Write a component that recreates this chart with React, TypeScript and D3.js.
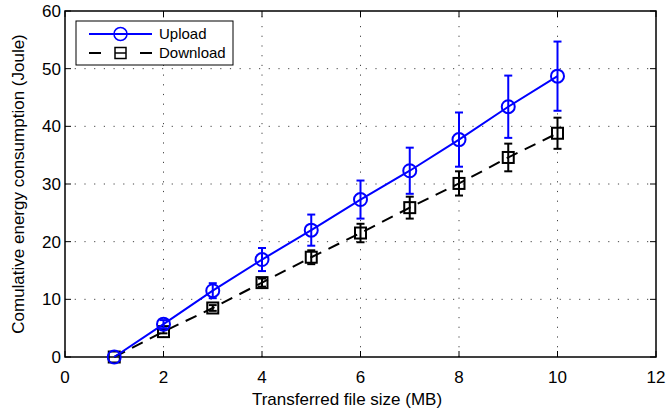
import React, { useEffect, useRef } from 'react';
import * as d3 from 'd3';

const fileSizes = [1, 2, 3, 4, 5, 6, 7, 8, 9, 10];
const uploadMean = [0, 5.7, 11.5, 16.9, 22.0, 27.3, 32.3, 37.7, 43.4, 48.7];
const uploadErr = [0, 0.7, 1.3, 2.0, 2.7, 3.3, 4.0, 4.7, 5.4, 6.0];
const downloadMean = [0, 4.4, 8.5, 12.9, 17.3, 21.5, 25.9, 30.1, 34.6, 38.8];
const downloadErr = [0, 0.3, 0.5, 0.7, 1.2, 1.6, 1.9, 2.1, 2.4, 2.7];
const xTicks = [0, 2, 4, 6, 8, 10, 12];
const yTicks = [0, 10, 20, 30, 40, 50, 60];

const W = 667;
const H = 415;
const FONT = '"Liberation Sans", Arial, sans-serif';

function Chart() {
  const ref = useRef<SVGSVGElement>(null);

  useEffect(() => {
    const svg = d3.select(ref.current);
    svg.selectAll('*').remove();

    const left = 65, right = 656, top = 11, bottom = 357;
    const x = d3.scaleLinear().domain([0, 12]).range([left, right]);
    const y = d3.scaleLinear().domain([0, 60]).range([bottom, top]);

    const g = svg.append('g');

    // dotted grid
    xTicks.slice(1, -1).forEach(t => {
      g.append('line')
        .attr('x1', x(t)).attr('x2', x(t)).attr('y1', bottom).attr('y2', top)
        .attr('stroke', '#444').attr('stroke-width', 1)
        .attr('stroke-dasharray', '1.2,8.5');
    });
    yTicks.slice(1, -1).forEach(t => {
      g.append('line')
        .attr('x1', left).attr('x2', right).attr('y1', y(t)).attr('y2', y(t))
        .attr('stroke', '#444').attr('stroke-width', 1)
        .attr('stroke-dasharray', '1.2,8.5');
    });

    // inward ticks, both sides
    xTicks.forEach(t => {
      g.append('line').attr('x1', x(t)).attr('x2', x(t)).attr('y1', bottom).attr('y2', bottom - 6).attr('stroke', '#000');
      g.append('line').attr('x1', x(t)).attr('x2', x(t)).attr('y1', top).attr('y2', top + 6).attr('stroke', '#000');
      g.append('text')
        .attr('x', x(t)).attr('y', bottom + 26)
        .attr('text-anchor', 'middle')
        .attr('font-family', FONT).attr('font-size', 17)
        .text(t);
    });
    yTicks.forEach(t => {
      g.append('line').attr('x1', left).attr('x2', left + 6).attr('y1', y(t)).attr('y2', y(t)).attr('stroke', '#000');
      g.append('line').attr('x1', right).attr('x2', right - 6).attr('y1', y(t)).attr('y2', y(t)).attr('stroke', '#000');
      g.append('text')
        .attr('x', left - 4).attr('y', y(t) + 6)
        .attr('text-anchor', 'end')
        .attr('font-family', FONT).attr('font-size', 17)
        .text(t);
    });

    g.append('rect')
      .attr('x', left).attr('y', top).attr('width', right - left).attr('height', bottom - top)
      .attr('fill', 'none').attr('stroke', '#000').attr('stroke-width', 1.5);

    // axis labels
    g.append('text')
      .attr('x', 347).attr('y', 405)
      .attr('text-anchor', 'middle')
      .attr('font-family', FONT).attr('font-size', 17)
      .text('Transferred file size (MB)');
    g.append('text')
      .attr('transform', `translate(24,${(top + bottom) / 2}) rotate(-90)`)
      .attr('text-anchor', 'middle')
      .attr('font-family', FONT).attr('font-size', 17)
      .text('Comulative energy consumption (Joule)');

    const line = d3.line<number>().x((d, i) => x(fileSizes[i])).y(d => y(d));

    const drawErr = (mean: number[], err: number[], color: string) => {
      mean.forEach((m, i) => {
        if (err[i] <= 0) return;
        const cx = x(fileSizes[i]);
        const y0 = y(m - err[i]), y1 = y(m + err[i]);
        g.append('line').attr('x1', cx).attr('x2', cx).attr('y1', y0).attr('y2', y1).attr('stroke', color).attr('stroke-width', 2);
        [y0, y1].forEach(yy => {
          g.append('line').attr('x1', cx - 4).attr('x2', cx + 4).attr('y1', yy).attr('y2', yy).attr('stroke', color).attr('stroke-width', 2);
        });
      });
    };

    // download
    drawErr(downloadMean, downloadErr, '#000');
    g.append('path').datum(downloadMean)
      .attr('d', line).attr('fill', 'none').attr('stroke', '#000')
      .attr('stroke-width', 2).attr('stroke-dasharray', '12,8');
    downloadMean.forEach((m, i) => {
      g.append('rect')
        .attr('x', x(fileSizes[i]) - 5.5).attr('y', y(m) - 5.5)
        .attr('width', 11).attr('height', 11)
        .attr('fill', 'none').attr('stroke', '#000').attr('stroke-width', 2);
    });

    // upload
    drawErr(uploadMean, uploadErr, '#0000ff');
    g.append('path').datum(uploadMean)
      .attr('d', line).attr('fill', 'none').attr('stroke', '#0000ff').attr('stroke-width', 2);
    uploadMean.forEach((m, i) => {
      g.append('circle')
        .attr('cx', x(fileSizes[i])).attr('cy', y(m)).attr('r', 6.5)
        .attr('fill', 'none').attr('stroke', '#0000ff').attr('stroke-width', 2);
    });

    // legend
    const lg = g.append('g');
    lg.append('rect')
      .attr('x', 76).attr('y', 21).attr('width', 157).attr('height', 44)
      .attr('fill', '#fff').attr('stroke', '#000').attr('stroke-width', 1);
    lg.append('line').attr('x1', 89).attr('x2', 152).attr('y1', 34).attr('y2', 34).attr('stroke', '#0000ff').attr('stroke-width', 2);
    lg.append('circle').attr('cx', 120.5).attr('cy', 34).attr('r', 6.5).attr('fill', 'none').attr('stroke', '#0000ff').attr('stroke-width', 1.5);
    lg.append('line').attr('x1', 89).attr('x2', 101).attr('y1', 53).attr('y2', 53).attr('stroke', '#000').attr('stroke-width', 2);
    lg.append('line').attr('x1', 140).attr('x2', 152).attr('y1', 53).attr('y2', 53).attr('stroke', '#000').attr('stroke-width', 2);
    lg.append('rect').attr('x', 115).attr('y', 47.5).attr('width', 11).attr('height', 11).attr('fill', 'none').attr('stroke', '#000').attr('stroke-width', 1.5);
    lg.append('line').attr('x1', 115).attr('x2', 126).attr('y1', 53).attr('y2', 53).attr('stroke', '#000').attr('stroke-width', 1.5);
    lg.append('text').attr('x', 159).attr('y', 39).attr('font-family', FONT).attr('font-size', 15).text('Upload');
    lg.append('text').attr('x', 159).attr('y', 58).attr('font-family', FONT).attr('font-size', 15).text('Download');
  }, []);

  return <svg ref={ref} width={W} height={H} style={{ display: 'block', background: '#fff' }} />;
}

export default function App() {
  return (
    <div style={{ position: 'fixed', left: 0, top: 0 }}>
      <Chart />
    </div>
  );
}
